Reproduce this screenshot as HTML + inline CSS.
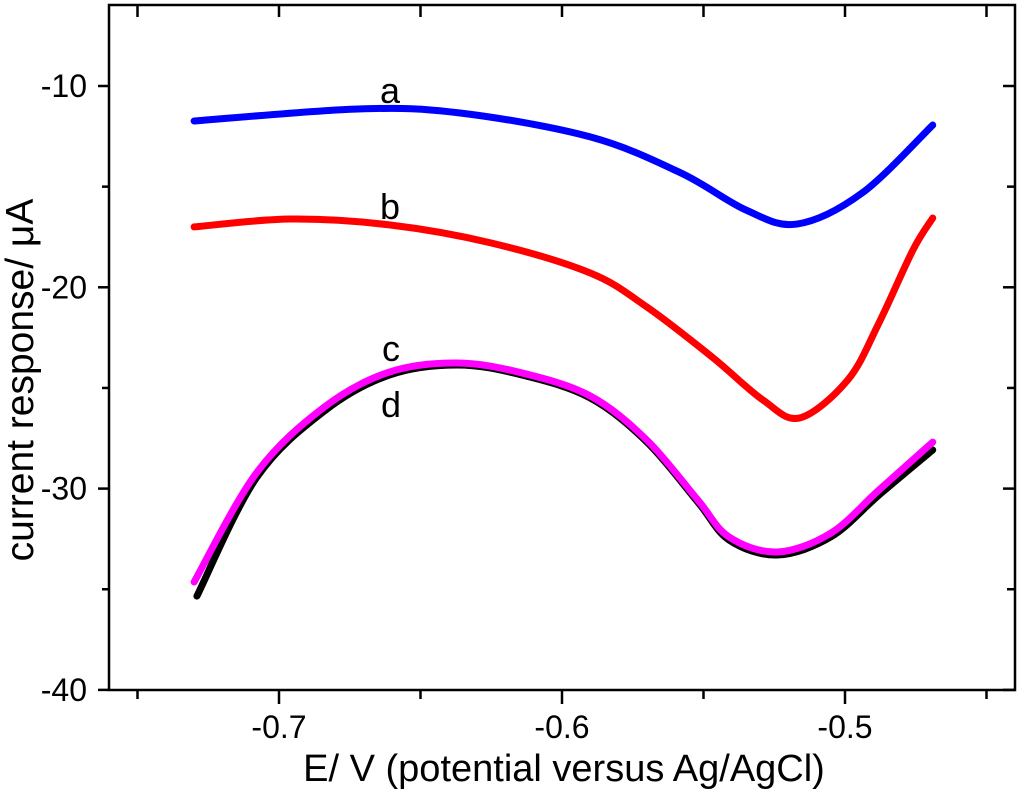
<!DOCTYPE html>
<html><head><meta charset="utf-8"><style>
html,body{margin:0;padding:0;background:#fff}
svg{display:block}
text{font-family:"Liberation Sans",sans-serif;fill:#000}
</style></head><body>
<svg id="chart" width="1024" height="792" viewBox="0 0 1024 792" xmlns="http://www.w3.org/2000/svg">
<g id="series"></g>
<g id="axes"></g>
<text x="564" y="781" font-size="38" text-anchor="middle">E/ V (potential versus Ag/AgCl)</text>
<text transform="translate(33,380) rotate(-90)" font-size="39" text-anchor="middle">current response/ μA</text>
<text x="390" y="103" font-size="36" text-anchor="middle">a</text>
<text x="390" y="219" font-size="36" text-anchor="middle">b</text>
<text x="391" y="361" font-size="36" text-anchor="middle">c</text>
<text x="391" y="417" font-size="36" text-anchor="middle">d</text>
</svg>
<script>
const xA=[-0.730,-0.672,-0.636,-0.590,-0.558,-0.535,-0.517,-0.494,-0.469];
const yA=[-11.74,-11.14,-11.34,-12.53,-14.32,-16.16,-16.86,-15.32,-11.94];
const xB=[-0.730,-0.696,-0.661,-0.625,-0.590,-0.570,-0.547,-0.529,-0.516,-0.499,-0.488,-0.476,-0.469];
const yB=[-17.00,-16.61,-16.90,-17.80,-19.29,-20.98,-23.46,-25.60,-26.49,-24.60,-21.77,-18.15,-16.56];
const xC=[-0.730,-0.708,-0.684,-0.661,-0.637,-0.614,-0.590,-0.570,-0.552,-0.541,-0.524,-0.505,-0.488,-0.469];
const yC=[-34.64,-29.23,-25.95,-24.21,-23.76,-24.26,-25.40,-27.59,-30.57,-32.40,-33.15,-32.21,-30.07,-27.69];
const xD=[-0.729,-0.708,-0.684,-0.661,-0.637,-0.614,-0.590,-0.570,-0.552,-0.541,-0.524,-0.505,-0.488,-0.469];
const yD=[-35.34,-29.47,-26.15,-24.36,-23.86,-24.36,-25.50,-27.69,-30.67,-32.55,-33.30,-32.40,-30.32,-28.08];
const xTickVals=[-0.7,-0.6,-0.5];
const xTickLabels=["-0.7","-0.6","-0.5"];
const xMinorVals=[-0.75,-0.65,-0.55,-0.45];
const yTickVals=[-10,-20,-30,-40];
const yTickLabels=["-10","-20","-30","-40"];
const yMinorVals=[-15,-25,-35];

const NS="http://www.w3.org/2000/svg";
const L=109,R=1015,T=5,B=690;
function sx(v){return 279+(v+0.7)*2830;}
function sy(v){return 86-(v+10)*20.13;}
function mk(tag,attrs,parent){const e=document.createElementNS(NS,tag);for(const k in attrs)e.setAttribute(k,attrs[k]);parent.appendChild(e);return e;}
const series=document.getElementById('series'),axes=document.getElementById('axes');
function smooth(xs,ys){
  const p=xs.map((x,i)=>[sx(x),sy(ys[i])]);
  let d="M"+p[0][0]+","+p[0][1];
  for(let i=0;i<p.length-1;i++){
    const p0=p[i-1]||p[i],p1=p[i],p2=p[i+1],p3=p[i+2]||p2;
    const c1=[p1[0]+(p2[0]-p0[0])/6,p1[1]+(p2[1]-p0[1])/6];
    const c2=[p2[0]-(p3[0]-p1[0])/6,p2[1]-(p3[1]-p1[1])/6];
    d+=" C"+c1+" "+c2+" "+p2;
  }
  return d;
}
function drawSeries(xs,ys,color,name,w){
  const e=mk('path',{d:smooth(xs,ys),fill:'none',stroke:color,'stroke-width':w,'stroke-linecap':'round'},series);
  
  
}
drawSeries(xA,yA,'#0000ff','series-a',7);
drawSeries(xB,yB,'#ff0000','series-b',7);
drawSeries(xD,yD,'#000000','series-d',7);
drawSeries(xC,yC,'#ff00ff','series-c',7);

const frame=mk('rect',{x:L,y:T,width:R-L,height:B-T,fill:'none',stroke:'#000','stroke-width':2.5},axes);


function tick(x1,y1,x2,y2,name){
  const e=mk('line',{x1:x1,y1:y1,x2:x2,y2:y2,stroke:'#000','stroke-width':2.5},axes);
  
  
}
xTickVals.forEach((v,i)=>{
  const x=sx(v);
  tick(x,B,x,B+14,'x-major-tick');
  tick(x,T,x,T+12,'x-top-tick');
  const t=mk('text',{x:x,y:738,'font-size':32,'text-anchor':'middle'},axes);
  t.textContent=xTickLabels[i];
  
  
});
xMinorVals.forEach(v=>{
  const x=sx(v);
  tick(x,B,x,B+9,'x-minor-tick');
  tick(x,T,x,T+12,'x-top-tick');
});
yTickVals.forEach((v,i)=>{
  const y=sy(v);
  tick(L-11,y,L,y,'y-major-tick');
  tick(R-12,y,R,y,'y-right-tick');
  const t=mk('text',{x:87,y:y+11,'font-size':32,'text-anchor':'end'},axes);
  t.textContent=yTickLabels[i];
  
  
});
yMinorVals.forEach(v=>{
  const y=sy(v);
  tick(L-7,y,L,y,'y-minor-tick');
  tick(R-8,y,R,y,'y-right-minor-tick');
});
</script>
</body></html>
